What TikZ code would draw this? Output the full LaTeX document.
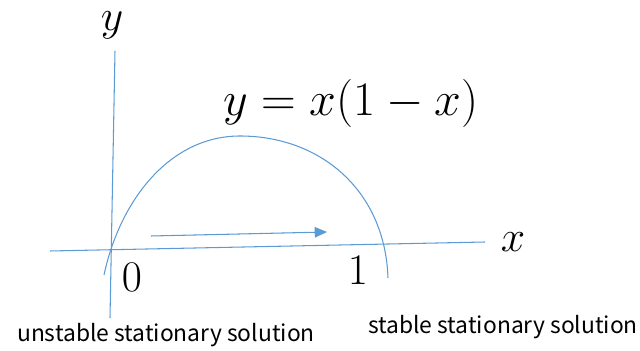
\documentclass[tikz,border=0pt]{standalone}
\usepackage{amsmath}
\usepackage{graphicx}
\usepackage{fontspec}
\usepackage{tikz}
\usepackage{xcolor}
\setsansfont{Noto Sans CJK JP}
\usetikzlibrary{arrows.meta,positioning}
\definecolor{lineblue}{RGB}{91,155,213}

\begin{document}
\begin{tikzpicture}[x=0.02cm,y=-0.02cm,>={Triangle[length=7pt,width=6pt]}]

\tikzstyle{curve}=[
  draw=lineblue,
  line width=0.6pt
]
\tikzstyle{mathlabel}=[
  inner sep=0pt,
  font=\fontsize{25}{30}\selectfont
]
\tikzstyle{caption}=[
  inner sep=0pt,
  font=\sffamily\fontsize{13}{15}\selectfont
]

\useasboundingbox (0,0) rectangle (640,351);

% Axes
\coordinate (xstart) at (50,251);
\coordinate (xend) at (485,242);
\coordinate (ystart) at (110,318);
\coordinate (yend) at (115,51);
\draw[curve] (xstart) -- (xend);
\draw[curve] (ystart) -- (yend);

\node[mathlabel] (ylab) at (112,25) {$y$};
\node[mathlabel] (xlab) at (513,242) {$x$};
\node[mathlabel] (zero) at (132,277) {$0$};
\node[mathlabel] (one) at (358,270) {$1$};
\node[mathlabel] (eq) at (351,103) {\scalebox{1.1}{$y=x(1-x)$}};

% Parabola
\coordinate (pleft) at (104,275);
\coordinate (ptop) at (240,136);
\coordinate (pright) at (388,278);
\draw[curve]
(pleft) .. controls (120,200) and (170,136) .. (ptop)
        .. controls (320,136) and (385,190) .. (pright);

% Flow arrow
\coordinate (astart) at (151,236);
\coordinate (aend) at (327,232);
\draw[curve,->,fill=lineblue] (astart) -- (aend);

% Stationary solutions
\node[caption] (unstable) at (166,335) {unstable stationary solution};
\node[caption] (stable) at (503,327) {stable stationary solution};

\end{tikzpicture}
\end{document}
